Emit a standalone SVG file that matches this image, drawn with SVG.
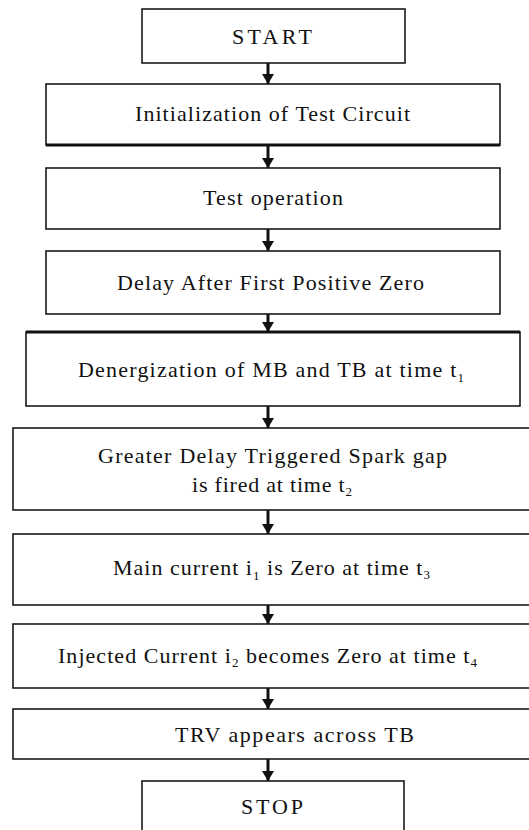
<svg xmlns="http://www.w3.org/2000/svg" width="529" height="830" viewBox="0 0 529 830">
<style>
.box{fill:#fff;stroke:#1a1a1a;stroke-width:1.6}
.thick{stroke:#111;stroke-width:3;fill:none}
text{font-family:"Liberation Serif","Times New Roman",serif;font-size:22px;fill:#111}
.sub{font-size:13px}
.conn{stroke:#111;stroke-width:3;fill:none}
</style>
<defs>
<marker id="ah" markerUnits="userSpaceOnUse" markerWidth="10" markerHeight="12" refX="10" refY="6" orient="auto" viewBox="0 0 10 12">
<path d="M0,0 L10,6 L0,12 Z" fill="#111"/>
</marker>
</defs>
<rect x="0" y="0" width="529" height="830" fill="#fff"/>
<g id="connectors">
<line class="conn" x1="268" y1="61" x2="268" y2="84" marker-end="url(#ah)"/>
<line class="conn" x1="268" y1="146" x2="268" y2="168" marker-end="url(#ah)"/>
<line class="conn" x1="268" y1="229" x2="268" y2="251" marker-end="url(#ah)"/>
<line class="conn" x1="268" y1="314" x2="268" y2="332" marker-end="url(#ah)"/>
<line class="conn" x1="268" y1="406" x2="268" y2="428" marker-end="url(#ah)"/>
<line class="conn" x1="268" y1="510" x2="268" y2="534" marker-end="url(#ah)"/>
<line class="conn" x1="268" y1="605" x2="268" y2="624" marker-end="url(#ah)"/>
<line class="conn" x1="268" y1="688" x2="268" y2="709" marker-end="url(#ah)"/>
<line class="conn" x1="268" y1="759" x2="268" y2="781" marker-end="url(#ah)"/>
</g>
<g id="start">
<rect class="box" x="142" y="9" width="263" height="54"/>
<text x="232" y="44" textLength="80" lengthAdjust="spacing">START</text>
</g>
<g id="init">
<rect class="box" x="46" y="84" width="454" height="61"/>
<line class="thick" x1="46" y1="145" x2="500" y2="145"/>
<text x="135" y="121" textLength="275" lengthAdjust="spacing">Initialization of Test Circuit</text>
</g>
<g id="testop">
<rect class="box" x="46" y="168" width="454" height="61"/>
<text x="203" y="205" textLength="140" lengthAdjust="spacing">Test operation</text>
</g>
<g id="delay">
<rect class="box" x="46" y="251" width="454" height="63"/>
<text x="117" y="290" textLength="307" lengthAdjust="spacing">Delay After First Positive Zero</text>
</g>
<g id="denerg">
<rect class="box" x="26" y="332" width="494" height="74"/>
<line class="thick" x1="26" y1="332" x2="520" y2="332"/>
<text x="78" y="377" textLength="386" lengthAdjust="spacing">Denergization of MB and TB at time t<tspan class="sub" dy="5">1</tspan></text>
</g>
<g id="greater">
<rect class="box" x="13" y="428" width="525" height="82"/>
<text x="98" y="463" textLength="349" lengthAdjust="spacing">Greater Delay Triggered Spark gap</text>
<text x="192" y="492" textLength="160" lengthAdjust="spacing">is fired at time t<tspan class="sub" dy="4">2</tspan></text>
</g>
<g id="main">
<rect class="box" x="13" y="534" width="525" height="71"/>
<text x="113" y="575" textLength="317" lengthAdjust="spacing">Main current i<tspan class="sub" dy="5">1</tspan><tspan dy="-5"> is Zero at time t</tspan><tspan class="sub" dy="4">3</tspan></text>
</g>
<g id="injected">
<rect class="box" x="13" y="624" width="525" height="64"/>
<text x="58" y="663" textLength="419" lengthAdjust="spacing">Injected Current i<tspan class="sub" dy="4">2</tspan><tspan dy="-4"> becomes Zero at time t</tspan><tspan class="sub" dy="4">4</tspan></text>
</g>
<g id="trv">
<rect class="box" x="13" y="709" width="525" height="50"/>
<text x="175" y="742" textLength="239" lengthAdjust="spacing">TRV appears across  TB</text>
</g>
<g id="stop">
<rect class="box" x="142" y="781" width="262" height="60"/>
<text x="241" y="814" textLength="62" lengthAdjust="spacing">STOP</text>
</g>
</svg>
